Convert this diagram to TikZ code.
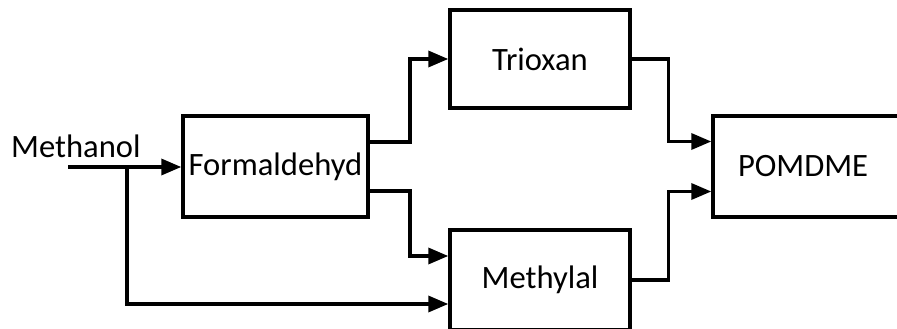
\documentclass[tikz,border=0pt]{standalone}
\usepackage{fontspec}
\setmainfont{Carlito}
\usetikzlibrary{arrows.meta}
\begin{document}
\begin{tikzpicture}[x=1pt,y=-1pt,
  font=\fontsize{32.6}{39}\selectfont,
  block/.style={draw,line width=3.4pt,rectangle,inner sep=0pt},
  flow/.style={line width=3.4pt,-{Triangle[length=20pt,width=16pt]}}]
  \clip (0,0) rectangle (897,329);
  % process blocks
  \node[block,minimum width=185pt,minimum height=101pt] (f) at (275.5,166.5) {Formaldehyd};
  \node[block,minimum width=180pt,minimum height=98pt] (t) at (540,59) {Trioxan};
  \node[block,minimum width=180pt,minimum height=100pt] (m) at (540,280) {Methylal};
  \node[block,minimum width=230pt,minimum height=101pt,text width=226pt,align=left] (p) at (828,166.5) {\hspace*{23pt}POMDME};
  % feed
  \node[anchor=base west,inner sep=0pt] (feed) at (11,157) {Methanol};
  \coordinate (in) at (68,167);
  \coordinate (br) at (127,167);
  \draw[flow] (in) -- (in -| f.west);
  \draw[flow] (br) |- ([yshift=-24pt]m.west);
  % intermediates
  \draw[flow] ([yshift=24.5pt]f.east) -- (410,142) |- (t.west);
  \draw[flow] ([yshift=-24.5pt]f.east) -- (410,191) |- ([yshift=24pt]m.west);
  % products
  \draw[flow] (t.east) -- ++(37,0) |- ([yshift=25pt]p.west);
  \draw[flow] (m.east) -- ++(37,0) |- ([yshift=-25pt]p.west);
\end{tikzpicture}
\end{document}
